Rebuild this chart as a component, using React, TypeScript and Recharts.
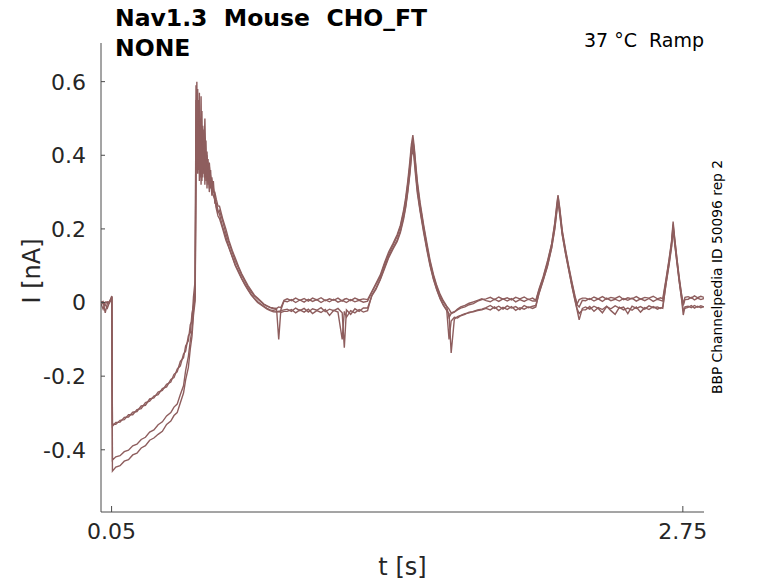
import { LineChart, Line, XAxis, YAxis } from 'recharts'

// sample times [s]
const time = [
  0, 0.01, 0.02, 0.03, 0.04, 0.051,
  0.054, 0.07, 0.09, 0.11, 0.13, 0.15, 0.17, 0.19, 0.21, 0.23, 0.25, 0.27, 0.29, 0.31, 0.33, 0.345, 0.36, 0.375, 0.39, 0.4, 0.413, 0.422, 0.43, 0.437, 0.445,
  0.449, 0.453, 0.457, 0.461, 0.465, 0.469, 0.473, 0.477, 0.481, 0.486, 0.491, 0.496, 0.501, 0.506, 0.512, 0.518, 0.524, 0.531, 0.538, 0.545, 0.553,
  0.56, 0.575, 0.59, 0.605, 0.62, 0.635, 0.65, 0.665, 0.68, 0.695, 0.71, 0.725, 0.74, 0.755, 0.77, 0.785, 0.8, 0.815, 0.83, 0.84, 0.85, 0.865,
  0.88, 0.9, 0.92, 0.94, 0.96, 0.98, 1.0, 1.02, 1.04, 1.06, 1.08, 1.1, 1.12, 1.14, 1.15, 1.16, 1.18, 1.2, 1.22, 1.24,
  1.26, 1.28, 1.3, 1.32, 1.34, 1.36, 1.38, 1.4, 1.415, 1.43, 1.44, 1.45, 1.46, 1.467, 1.474, 1.48, 1.486, 1.495, 1.508, 1.525, 1.54, 1.555, 1.571, 1.587, 1.603, 1.618, 1.634, 1.645, 1.655, 1.67, 1.685, 1.7, 1.72, 1.74, 1.76, 1.78, 1.8,
  1.82, 1.84, 1.86, 1.88, 1.9, 1.92, 1.94, 1.96, 1.98, 2.0, 2.02, 2.04,
  2.055, 2.07, 2.09, 2.11, 2.13, 2.145, 2.155, 2.16, 2.168, 2.18, 2.195, 2.21, 2.225, 2.24, 2.25, 2.26, 2.275,
  2.29, 2.31, 2.33, 2.35, 2.37, 2.39, 2.41, 2.43, 2.45, 2.47, 2.49, 2.51, 2.53, 2.55, 2.57, 2.59, 2.61, 2.63, 2.645,
  2.655, 2.67, 2.685, 2.697, 2.704, 2.711, 2.722, 2.733, 2.743, 2.752, 2.76,
  2.775, 2.79, 2.805, 2.82, 2.835, 2.85,
]

// current [nA], one array per sweep
const sweep1 = [
  0.002, -0.004, 0.001, -0.002, 0.003, 0.012,
  -0.336, -0.326, -0.325, -0.312, -0.311, -0.298, -0.296, -0.281, -0.279, -0.262, -0.259, -0.243, -0.239, -0.222, -0.216, -0.195, -0.188, -0.16, -0.15, -0.118, -0.104, -0.06, -0.05, 0.015, 0.06,
  0.59, 0.36, 0.52, 0.38, 0.57, 0.34, 0.49, 0.37, 0.46, 0.35, 0.43, 0.33, 0.41, 0.32, 0.37, 0.31, 0.34, 0.3, 0.3, 0.28, 0.262,
  0.262, 0.228, 0.2, 0.168, 0.142, 0.12, 0.098, 0.078, 0.062, 0.046, 0.033, 0.02, 0.012, 0.004, -0.004, -0.009, -0.013, -0.015, -0.016, -0.012, -0.014, 0.006,
  0.01, 0.005, 0.012, 0.006, 0.011, 0.004, 0.012, 0.007, 0.013, 0.005, 0.01, 0.006, 0.012, 0.004, 0.009, 0.011, 0.005, 0.012, 0.007, 0.01,
  0.008, 0.03, 0.052, 0.075, 0.108, 0.138, 0.16, 0.185, 0.21, 0.25, 0.285, 0.33, 0.385, 0.43, 0.455, 0.425, 0.385, 0.33, 0.272, 0.21, 0.162, 0.116, 0.077, 0.046, 0.022, 0.005, -0.01, -0.018, -0.028, -0.025, -0.02, -0.015, -0.012, -0.006, -0.003, 0.004, 0.008,
  0.01, 0.014, 0.008, 0.015, 0.009, 0.013, 0.007, 0.014, 0.01, 0.015, 0.008, 0.012,
  0.006, 0.036, 0.07, 0.112, 0.16, 0.218, 0.27, 0.292, 0.258, 0.196, 0.146, 0.1, 0.058, 0.018, -0.004, 0.008, 0.012,
  0.012, 0.008, 0.015, 0.01, 0.016, 0.009, 0.014, 0.011, 0.017, 0.008, 0.013, 0.01, 0.016, 0.009, 0.014, 0.012, 0.017, 0.01, 0.013,
  0.01, 0.062, 0.118, 0.168, 0.22, 0.178, 0.12, 0.068, 0.026, -0.004, 0.014,
  0.016, 0.012, 0.018, 0.013, 0.017, 0.014,
]

const sweep2 = [
  -0.003, -0.018, 0.0, 0.002, -0.001, 0.015,
  -0.33, -0.331, -0.32, -0.318, -0.305, -0.305, -0.291, -0.288, -0.272, -0.268, -0.254, -0.25, -0.234, -0.229, -0.209, -0.204, -0.181, -0.172, -0.14, -0.132, -0.09, -0.082, -0.03, -0.01, 0.035,
  0.4, 0.6, 0.35, 0.55, 0.33, 0.5, 0.35, 0.52, 0.34, 0.47, 0.32, 0.44, 0.31, 0.39, 0.3, 0.36, 0.29, 0.33, 0.27, 0.27, 0.25,
  0.24, 0.205, 0.178, 0.15, 0.126, 0.102, 0.085, 0.066, 0.05, 0.036, 0.022, 0.012, 0.003, -0.004, -0.01, -0.016, -0.02, -0.022, -0.024, -0.025, -0.022, -0.02,
  -0.018, -0.024, -0.015, -0.022, -0.016, -0.026, -0.017, -0.021, -0.014, -0.025, -0.018, -0.022, -0.016, -0.028, -0.123, -0.02, -0.032, -0.017, -0.024, -0.015,
  -0.015, 0.018, 0.036, 0.062, 0.092, 0.122, 0.145, 0.166, 0.19, 0.226, 0.258, 0.3, 0.35, 0.395, 0.43, 0.39, 0.35, 0.298, 0.248, 0.19, 0.143, 0.1, 0.063, 0.034, 0.01, -0.008, -0.022, -0.03, -0.137, -0.045, -0.038, -0.035, -0.03, -0.028, -0.024, -0.02, -0.018,
  -0.014, -0.008, -0.016, -0.01, -0.018, -0.009, -0.015, -0.011, -0.019, -0.008, -0.014, -0.01,
  -0.008, 0.024, 0.06, 0.098, 0.148, 0.2, 0.25, 0.275, 0.24, 0.184, 0.134, 0.09, 0.046, 0.006, -0.02, -0.047, -0.016,
  -0.012, -0.018, -0.01, -0.016, -0.028, -0.011, -0.017, -0.009, -0.015, -0.012, -0.03, -0.01, -0.016, -0.011, -0.018, -0.009, -0.014, -0.012, -0.016,
  -0.012, 0.048, 0.102, 0.152, 0.2, 0.162, 0.108, 0.056, 0.014, -0.034, -0.012,
  -0.01, -0.014, -0.008, -0.013, -0.009, -0.012,
]

const sweep3 = [
  0.001, 0.003, -0.028, -0.003, 0.002, 0.018,
  -0.428, -0.419, -0.416, -0.405, -0.401, -0.389, -0.385, -0.372, -0.366, -0.352, -0.346, -0.332, -0.324, -0.308, -0.299, -0.284, -0.276, -0.25, -0.226, -0.185, -0.146, -0.104, -0.075, -0.02, 0.015,
  0.55, 0.42, 0.58, 0.36, 0.47, 0.4, 0.56, 0.33, 0.48, 0.38, 0.5, 0.36, 0.4, 0.35, 0.38, 0.33, 0.32, 0.31, 0.29, 0.26, 0.245,
  0.25, 0.222, 0.188, 0.162, 0.137, 0.112, 0.094, 0.074, 0.058, 0.041, 0.029, 0.018, 0.01, 0.002, -0.006, -0.01, -0.014, -0.017, -0.019, -0.1, -0.02, 0.004,
  0.002, 0.008, 0.0, 0.007, 0.001, 0.009, 0.003, 0.008, 0.0, 0.007, 0.002, 0.009, 0.001, 0.006, 0.003, 0.0, 0.008, 0.002, 0.006, 0.001,
  0.004, 0.028, 0.05, 0.07, 0.104, 0.132, 0.156, 0.18, 0.205, 0.244, 0.276, 0.322, 0.372, 0.42, 0.44, 0.418, 0.378, 0.322, 0.265, 0.205, 0.155, 0.11, 0.072, 0.042, 0.018, 0.002, -0.012, -0.04, -0.03, -0.026, -0.018, -0.012, -0.008, -0.002, 0.002, 0.006, 0.01,
  0.005, 0.002, 0.009, 0.003, 0.01, 0.004, 0.011, 0.002, 0.008, 0.003, 0.009, 0.004,
  0.004, 0.033, 0.068, 0.108, 0.158, 0.214, 0.264, 0.288, 0.254, 0.192, 0.142, 0.097, 0.054, 0.015, -0.006, -0.012, 0.006,
  0.005, 0.011, 0.004, 0.01, 0.003, 0.012, 0.005, 0.009, 0.004, 0.011, 0.006, 0.012, 0.004, 0.01, 0.005, 0.011, 0.003, 0.009, 0.006,
  0.004, 0.058, 0.114, 0.164, 0.212, 0.174, 0.118, 0.064, 0.022, -0.008, 0.008,
  0.009, 0.014, 0.007, 0.012, 0.008, 0.011,
]

const sweep4 = [
  -0.001, 0.0, -0.006, -0.015, 0.001, 0.01,
  -0.458, -0.447, -0.443, -0.431, -0.427, -0.414, -0.409, -0.395, -0.389, -0.374, -0.368, -0.358, -0.35, -0.331, -0.322, -0.307, -0.299, -0.272, -0.246, -0.21, -0.176, -0.126, -0.092, -0.035, 0.005,
  0.34, 0.5, 0.39, 0.48, 0.36, 0.44, 0.32, 0.45, 0.35, 0.42, 0.34, 0.39, 0.33, 0.37, 0.31, 0.345, 0.3, 0.29, 0.28, 0.255, 0.235,
  0.228, 0.2, 0.17, 0.148, 0.124, 0.1, 0.082, 0.064, 0.048, 0.034, 0.02, 0.01, 0.0, -0.006, -0.012, -0.018, -0.022, -0.025, -0.026, -0.024, -0.027, -0.024,
  -0.024, -0.019, -0.028, -0.02, -0.026, -0.018, -0.03, -0.022, -0.027, -0.019, -0.035, -0.021, -0.026, -0.1, -0.024, -0.04, -0.022, -0.028, -0.019, -0.026,
  -0.022, 0.02, 0.04, 0.064, 0.096, 0.126, 0.148, 0.17, 0.195, 0.232, 0.262, 0.305, 0.355, 0.4, 0.41, 0.4, 0.36, 0.306, 0.252, 0.195, 0.148, 0.104, 0.066, 0.036, 0.012, -0.006, -0.02, -0.1, -0.05, -0.04, -0.042, -0.036, -0.032, -0.026, -0.025, -0.022, -0.02,
  -0.016, -0.02, -0.012, -0.022, -0.013, -0.019, -0.011, -0.021, -0.014, -0.018, -0.012, -0.016,
  -0.012, 0.026, 0.062, 0.1, 0.15, 0.204, 0.254, 0.278, 0.245, 0.186, 0.136, 0.092, 0.048, 0.008, -0.016, -0.03, -0.02,
  -0.02, -0.011, -0.024, -0.014, -0.019, -0.01, -0.022, -0.032, -0.013, -0.02, -0.015, -0.021, -0.012, -0.026, -0.014, -0.019, -0.011, -0.018, -0.014,
  -0.016, 0.05, 0.106, 0.156, 0.205, 0.165, 0.11, 0.058, 0.016, -0.02, -0.016,
  -0.013, -0.008, -0.015, -0.01, -0.014, -0.011,
]

const xTicks = [0.05, 2.75]
const yTicks = [-0.4, -0.2, 0, 0.2, 0.4, 0.6]

const sweeps = [sweep1, sweep2, sweep3, sweep4]
const rows = time.map((t, i) => {
  const row: Record<string, number> = { t }
  sweeps.forEach((s, k) => {
    row['s' + k] = s[i]
  })
  return row
})

const TRACE = '#8e5e5e'
const AXIS = '#4a4a4a'
const TEXT = '#262626'
const FONT = '"DejaVu Sans", sans-serif'

function YTick(props: any) {
  const { x, y, payload } = props
  const ax = x + 15
  return (
    <g>
      <line x1={ax} x2={ax + 4} y1={y} y2={y} stroke={AXIS} />
      <text x={x} y={y} dy="0.36em" textAnchor="end" fontSize={22} fill={TEXT} fontFamily={FONT}>
        {String(payload.value)}
      </text>
    </g>
  )
}

function XTick(props: any) {
  const { x, y, payload } = props
  return (
    <g>
      <line x1={x} x2={x} y1={y} y2={y - 6} stroke={AXIS} />
      <text x={x} y={y + 27} textAnchor="middle" fontSize={22} fill={TEXT} fontFamily={FONT}>
        {String(payload.value)}
      </text>
    </g>
  )
}

export default function App() {
  return (
    <div style={{ position: 'absolute', left: 0, top: 0, width: 778, height: 583, background: '#fff', fontFamily: FONT }}>
      <LineChart width={778} height={583} data={rows} margin={{ top: 43, right: 74, bottom: 0, left: 0 }}>
        <XAxis
          dataKey="t"
          type="number"
          domain={[0, 2.85]}
          ticks={xTicks}
          allowDataOverflow
          height={71}
          tickSize={0}
          tickMargin={0}
          tickLine={false}
          stroke={AXIS}
          tick={<XTick />}
        />
        <YAxis
          type="number"
          domain={[-0.569, 0.705]}
          ticks={yTicks}
          allowDataOverflow
          width={101}
          tickSize={0}
          tickMargin={15}
          tickLine={false}
          stroke={AXIS}
          tick={<YTick />}
        />
        {sweeps.map((_, k) => (
          <Line
            key={k}
            dataKey={'s' + k}
            type="linear"
            stroke={TRACE}
            strokeWidth={1.4}
            dot={false}
            activeDot={false}
            isAnimationActive={false}
          />
        ))}
      </LineChart>
      <svg width={778} height={583} style={{ position: 'absolute', left: 0, top: 0, pointerEvents: 'none' }}>
        <g fontFamily={FONT}>
          <text x={115} y={26} fontSize={23.5} fontWeight="bold" fill="#000" style={{ whiteSpace: 'pre' }}>
            {'Nav1.3  Mouse  CHO_FT'}
          </text>
          <text x={115} y={56} fontSize={23.5} fontWeight="bold" fill="#000">
            NONE
          </text>
          <text x={704} y={47} fontSize={19} textAnchor="end" fill="#000" style={{ whiteSpace: 'pre' }}>
            {'37 °C  Ramp'}
          </text>
          <text
            x={717}
            y={277}
            fontSize={13.8}
            textAnchor="middle"
            dominantBaseline="central"
            fill="#000"
            transform="rotate(-90 717 277)"
          >
            BBP Channelpedia ID 50096 rep 2
          </text>
          <text
            x={32}
            y={271}
            fontSize={24}
            textAnchor="middle"
            dominantBaseline="central"
            fill={TEXT}
            transform="rotate(-90 32 271)"
          >
            I [nA]
          </text>
          <text x={402.5} y={567} fontSize={24} textAnchor="middle" dominantBaseline="central" fill={TEXT}>
            t [s]
          </text>
        </g>
      </svg>
    </div>
  )
}
